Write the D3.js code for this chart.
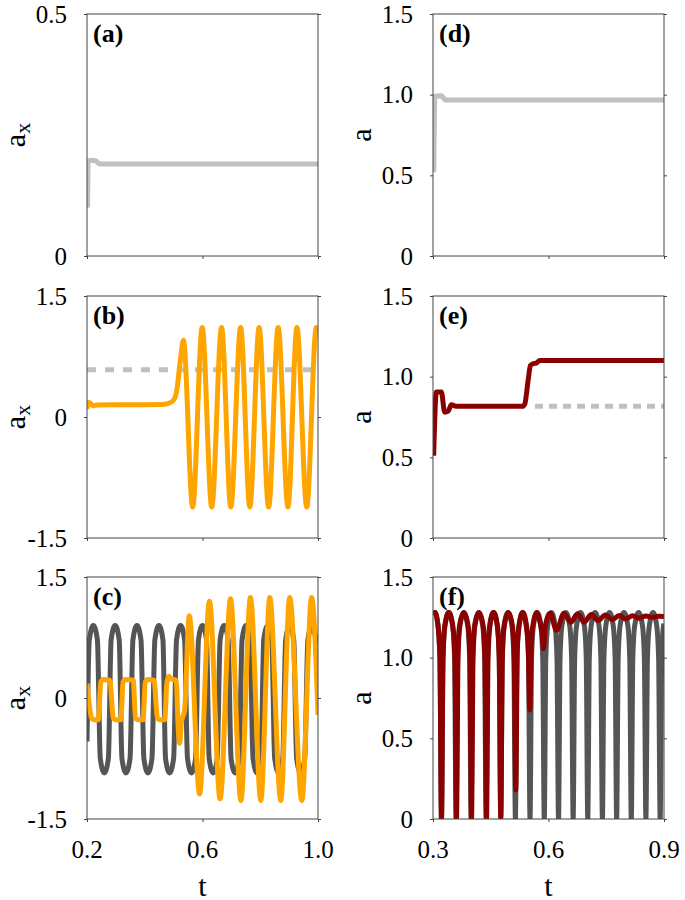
<!DOCTYPE html>
<html><head><meta charset="utf-8">
<script src="https://cdn.jsdelivr.net/npm/d3@7"></script>
</head><body style="margin:0">
<svg id="chart" width="685" height="900"></svg>
<script>
// ---------- tick values / labels ----------
const tLeftTicks = [0.2, 0.6, 1.0];
const tLeftLabels = ["0.2", "0.6", "1.0"];
const tRightTicks = [0.3, 0.6, 0.9];
const tRightLabels = ["0.3", "0.6", "0.9"];
const yTicksA = [0, 0.5];
const yLabelsA = ["0", "0.5"];
const yTicksBC = [-1.5, 0, 1.5];
const yLabelsBC = ["-1.5", "0", "1.5"];
const yTicksDEF = [0, 0.5, 1.0, 1.5];
const yLabelsDEF = ["0", "0.5", "1.0", "1.5"];

// ---------- series [t, value] ----------
const seriesA = [[0.202,0.10],[0.204,0.196],[0.215,0.198],[0.232,0.196],[0.244,0.190],[1.0,0.190]];
const seriesD = [[0.302,0.52],[0.305,0.99],[0.322,0.993],[0.332,0.967],[0.9,0.967]];

const dashB = [[0.2,0.585],[1.0,0.585]];
const orangeB = [[0.200,0.10],[0.206,0.18],[0.212,0.17],[0.220,0.14],[0.235,0.15],[0.300,0.153],[0.400,0.153],
  [0.460,0.155],[0.480,0.165],[0.500,0.21],[0.511,0.33],[0.522,0.665],[0.534,0.95],[0.566,-1.116],
  [0.599,1.108],[0.632,-1.116],[0.666,1.108],[0.698,-1.116],[0.732,1.108],[0.764,-1.116],[0.796,1.108],
  [0.829,-1.116],[0.862,1.108],[0.896,-1.116],[0.927,1.108],[0.961,-1.116],[0.994,1.108],[1.0,1.07]];

const dashE = [[0.565,0.816],[0.9,0.816]];
const redE = [[0.3017,0.51],[0.3087,0.905],[0.3217,0.905],[0.3303,0.78],[0.339,0.785],[0.3477,0.826],[0.36,0.816],
  [0.5324,0.816],[0.5384,0.83],[0.5471,0.977],[0.5532,1.07],[0.5601,1.08],[0.5688,1.085],[0.5775,1.10],[0.5948,1.10],[0.9,1.10]];

const grayC = [[0.200,-0.54],
  [0.208,0.72],[0.222,0.9],[0.236,0.72],[0.246,-0.75],[0.260,-0.93],[0.274,-0.75],
  [0.2835,0.72],[0.2975,0.9],[0.3115,0.72],[0.321,-0.75],[0.335,-0.93],[0.349,-0.75],
  [0.359,0.72],[0.373,0.9],[0.387,0.72],[0.397,-0.75],[0.411,-0.93],[0.425,-0.75],
  [0.435,0.72],[0.449,0.9],[0.463,0.72],[0.472,-0.75],[0.486,-0.93],[0.500,-0.75],
  [0.510,0.72],[0.524,0.9],[0.538,0.72],[0.548,-0.75],[0.562,-0.93],[0.576,-0.75],
  [0.586,0.72],[0.600,0.9],[0.614,0.72],[0.623,-0.75],[0.637,-0.93],[0.651,-0.75],
  [0.661,0.72],[0.675,0.9],[0.689,0.72],[0.699,-0.75],[0.713,-0.93],[0.727,-0.75],
  [0.737,0.72],[0.751,0.9],[0.765,0.72],[0.775,-0.75],[0.789,-0.93],[0.803,-0.75],
  [0.812,0.72],[0.826,0.9],[0.840,0.72],[0.850,-0.75],[0.864,-0.93],[0.878,-0.75],
  [0.888,0.72],[0.902,0.9],[0.916,0.72],[0.926,-0.75],[0.940,-0.93],[0.954,-0.75],
  [0.965,0.72],[0.979,0.9],[0.993,0.74],[1.0,0.68]];
const orangeC = [[0.200,0.18],[0.216,-0.25],[0.222,-0.27],[0.239,-0.27],[0.248,0.20],[0.256,0.23],[0.279,0.22],
  [0.291,-0.25],[0.297,-0.27],[0.317,-0.27],[0.325,0.20],[0.333,0.23],[0.360,0.22],
  [0.368,-0.25],[0.374,-0.27],[0.394,-0.27],[0.402,0.20],[0.410,0.23],[0.432,0.22],
  [0.444,-0.25],[0.450,-0.27],[0.469,-0.27],[0.477,0.20],[0.484,0.27],[0.490,0.24],[0.509,0.22],
  [0.515,-0.30],[0.521,-0.56],[0.527,-0.30],[0.538,-0.15],[0.554,1.02],[0.590,-1.19],[0.624,1.20],
  [0.661,-1.25],[0.697,1.23],[0.733,-1.27],[0.766,1.245],[0.802,-1.27],[0.833,1.245],[0.871,-1.27],
  [0.902,1.245],[0.944,-1.27],[0.978,1.245],[1.0,-0.21]];

const grayF = [[0.300,1.265],[0.305,1.28],[0.313,1.2],[0.318,1.0],
  [0.322,0],[0.326,1.0],[0.331,1.2],[0.341,1.28],[0.351,1.2],[0.356,1.0],
  [0.360,0],[0.364,1.0],[0.369,1.2],[0.3795,1.28],[0.390,1.2],[0.395,1.0],
  [0.399,0],[0.403,1.0],[0.408,1.2],[0.4185,1.28],[0.429,1.2],[0.434,1.0],
  [0.438,0],[0.442,1.0],[0.447,1.2],[0.457,1.28],[0.467,1.2],[0.472,1.0],
  [0.476,0],[0.480,1.0],[0.485,1.2],[0.495,1.28],[0.505,1.2],[0.510,1.0],
  [0.514,0],[0.518,1.0],[0.523,1.2],[0.533,1.28],[0.543,1.2],[0.548,1.0],
  [0.552,0],[0.556,1.0],[0.561,1.2],[0.5705,1.28],[0.580,1.2],[0.585,1.0],
  [0.589,0],[0.593,1.0],[0.598,1.2],[0.6075,1.28],[0.617,1.2],[0.622,1.0],
  [0.626,0],[0.630,1.0],[0.635,1.2],[0.645,1.28],[0.655,1.2],[0.660,1.0],
  [0.664,0],[0.668,1.0],[0.673,1.2],[0.683,1.28],[0.693,1.2],[0.698,1.0],
  [0.702,0],[0.706,1.0],[0.711,1.2],[0.721,1.28],[0.731,1.2],[0.736,1.0],
  [0.740,0],[0.744,1.0],[0.749,1.2],[0.7585,1.28],[0.768,1.2],[0.773,1.0],
  [0.777,0],[0.781,1.0],[0.786,1.2],[0.796,1.28],[0.806,1.2],[0.811,1.0],
  [0.815,0],[0.819,1.0],[0.824,1.2],[0.834,1.28],[0.844,1.2],[0.849,1.0],
  [0.853,0],[0.857,1.0],[0.862,1.2],[0.8715,1.28],[0.881,1.2],[0.886,1.0],
  [0.890,0],[0.894,1.0],[0.899,1.2],[0.900,1.21]];
const redF = [[0.300,1.265],[0.305,1.28],[0.313,1.2],[0.318,1.0],
  [0.322,0],[0.326,1.0],[0.331,1.2],[0.341,1.28],[0.351,1.2],[0.357,1.0],
  [0.361,0],[0.365,1.0],[0.370,1.2],[0.3805,1.28],[0.391,1.2],[0.396,1.0],
  [0.400,0],[0.404,1.0],[0.409,1.2],[0.4195,1.28],[0.430,1.2],[0.435,1.0],
  [0.439,0],[0.443,1.0],[0.448,1.2],[0.4575,1.28],[0.467,1.2],[0.472,1.0],
  [0.476,0.01],[0.480,1.0],[0.485,1.2],[0.4955,1.28],[0.506,1.2],[0.511,1.0],
  [0.515,0.18],[0.519,1.05],[0.524,1.2],[0.533,1.28],[0.542,1.2],[0.5475,1.05],
  [0.5515,0.675],[0.5555,1.1],[0.561,1.22],[0.569,1.28],[0.578,1.22],[0.5835,1.15],
  [0.587,1.055],[0.591,1.18],[0.596,1.24],[0.604,1.275],
  [0.621,1.17],[0.640,1.275],[0.658,1.22],[0.6755,1.272],[0.693,1.22],[0.711,1.268],
  [0.729,1.23],[0.7475,1.265],[0.766,1.235],[0.7835,1.262],[0.801,1.24],[0.8185,1.26],
  [0.836,1.245],[0.853,1.258],[0.870,1.25],[0.885,1.256],[0.900,1.255]];

// ---------- drawing ----------
const ORANGE = "#ffa500", LGRAY = "#c0c0c0", DGRAY = "#555555", DRED = "#8b0000";
const FONT = "Liberation Serif";
const svg = d3.select("#chart");
const pw = 231, ph = 242;
const colX = [87, 433];
const rowY = [14, 296, 577];

function txt(x, y, s, size, anchor, bold, rotate) {
  const t = svg.append("text").attr("font-size", size).style("font-family", FONT)
    .attr("text-anchor", anchor).attr("fill", "#000");
  if (rotate) t.attr("transform", `translate(${x},${y}) rotate(-90)`);
  else t.attr("x", x).attr("y", y);
  if (bold) t.attr("font-weight", "bold");
  t.text(s);
  return t;
}

function drawPanel(p) {
  const g = svg.append("g").attr("transform", `translate(${p.x},${p.y})`);
  const x = d3.scaleLinear().domain(p.xd).range([0, pw]);
  const y = d3.scaleLinear().domain(p.yd).range([ph, 0]);
  const cid = "clip_" + p.name;
  g.append("clipPath").attr("id", cid).append("rect").attr("width", pw).attr("height", ph);
  const line = d3.line().x(d => x(d[0])).y(d => y(d[1])).curve(d3.curveMonotoneX);
  const lg = g.append("g").attr("clip-path", `url(#${cid})`);
  p.series.forEach(s => {
    lg.append("path").datum(s.data).attr("d", line)
      .attr("fill", "none").attr("stroke", s.color).attr("stroke-width", s.w || 5)
      .attr("stroke-dasharray", s.dash || null).attr("stroke-linejoin", "round");
  });
  g.append("rect").attr("width", pw).attr("height", ph)
    .attr("fill", "none").attr("stroke", "#444").attr("stroke-width", 1);

  const yl = g.append("g").call(d3.axisLeft(y).tickValues(p.yt).tickFormat("").tickSize(3));
  const yr = g.append("g").attr("transform", `translate(${pw},0)`)
    .call(d3.axisRight(y).tickValues(p.yt).tickFormat("").tickSize(3));
  const xb = g.append("g").attr("transform", `translate(0,${ph})`)
    .call(d3.axisBottom(x).tickValues(p.xt).tickFormat("").tickSize(3));
  [yl, yr, xb].forEach(a => {
    a.select(".domain").remove();
    a.selectAll("line").attr("stroke", "#444");
    a.selectAll("text").remove();
  });

  // tick labels (positioned through the scales)
  p.yt.forEach((v, i) => txt(p.x - 20, p.y + y(v) + 8.5, p.ylab[i], 25, "end"));
  if (p.xlab) p.xt.forEach((v, i) => txt(p.x + x(v), p.y + ph + 39, p.xlab[i], 25, "middle"));

  // panel label
  txt(p.x + 6, p.y + 28, p.label, 26, "start", true);

  // y title
  const tt = txt(p.x - 62, p.y + ph / 2, "a", 30, "middle", false, true);
  if (p.sub) { tt.text(""); tt.append("tspan").text("a");
    tt.append("tspan").attr("font-size", 22).attr("dy", 5).text("x"); }

  if (p.xtitle) txt(p.x + pw / 2, p.y + ph + 77, "t", 30, "middle");
}

const panels = [
  {name:"a", x:colX[0], y:rowY[0], xd:[0.2,1.0], yd:[0,0.5], yt:yTicksA, ylab:yLabelsA, xt:tLeftTicks, xlab:null,
   label:"(a)", sub:true, series:[{data:seriesA, color:LGRAY}]},
  {name:"b", x:colX[0], y:rowY[1], xd:[0.2,1.0], yd:[-1.5,1.5], yt:yTicksBC, ylab:yLabelsBC, xt:tLeftTicks, xlab:null,
   label:"(b)", sub:true, series:[{data:dashB, color:LGRAY, dash:"9,9"},{data:orangeB, color:ORANGE}]},
  {name:"c", x:colX[0], y:rowY[2], xd:[0.2,1.0], yd:[-1.5,1.5], yt:yTicksBC, ylab:yLabelsBC, xt:tLeftTicks, xlab:tLeftLabels,
   label:"(c)", sub:true, xtitle:true, series:[{data:grayC, color:DGRAY},{data:orangeC, color:ORANGE}]},
  {name:"d", x:colX[1], y:rowY[0], xd:[0.3,0.9], yd:[0,1.5], yt:yTicksDEF, ylab:yLabelsDEF, xt:tRightTicks, xlab:null,
   label:"(d)", sub:false, series:[{data:seriesD, color:LGRAY}]},
  {name:"e", x:colX[1], y:rowY[1], xd:[0.3,0.9], yd:[0,1.5], yt:yTicksDEF, ylab:yLabelsDEF, xt:tRightTicks, xlab:null,
   label:"(e)", sub:false, series:[{data:dashE, color:LGRAY, dash:"8,6"},{data:redE, color:DRED}]},
  {name:"f", x:colX[1], y:rowY[2], xd:[0.3,0.9], yd:[0,1.5], yt:yTicksDEF, ylab:yLabelsDEF, xt:tRightTicks, xlab:tRightLabels,
   label:"(f)", sub:false, xtitle:true, series:[{data:grayF, color:DGRAY},{data:redF, color:DRED}]}
];
panels.forEach(drawPanel);
</script>
</body></html>
